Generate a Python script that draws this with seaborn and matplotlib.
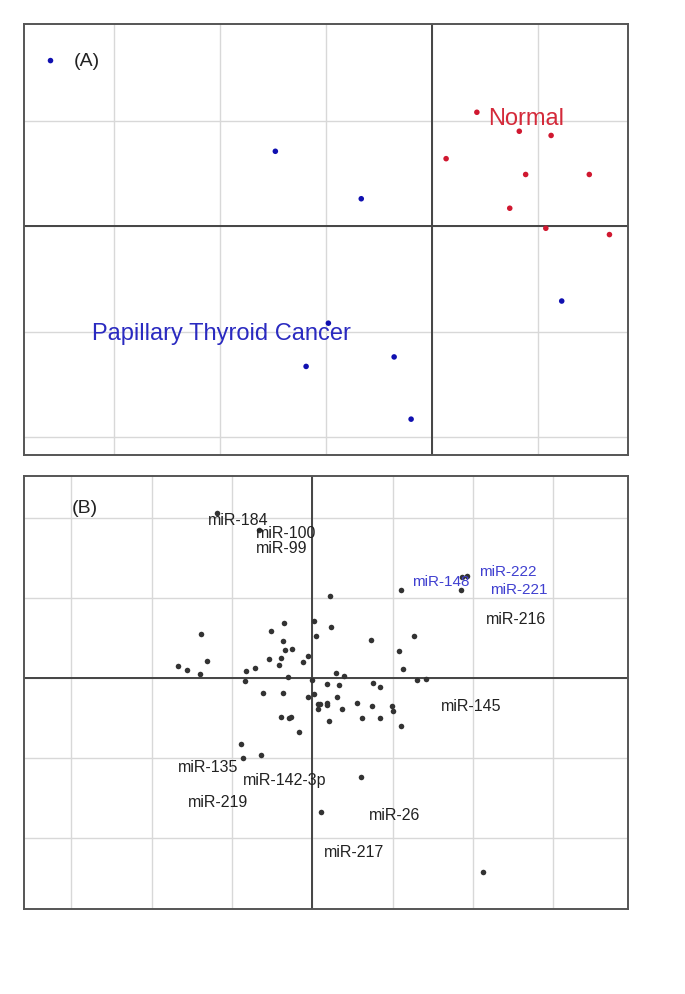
import numpy as np
import pandas as pd
import matplotlib
matplotlib.use("Agg")
import matplotlib.pyplot as plt
import seaborn as sns

# %%
# Panel A: samples
cancer_x = [-3.60, -1.48, -0.67, -0.98, -1.19, -0.36, -0.20, 1.22]
cancer_y = [1.57, 0.71, 0.26, -0.92, -1.33, -1.24, -1.83, -0.71]
normal_x = [0.42, 0.82, 1.12, 0.13, 0.88, 1.48, 0.73, 1.07, 1.67]
normal_y = [1.08, 0.90, 0.86, 0.64, 0.49, 0.49, 0.17, -0.02, -0.08]

# Panel B: miRNA loadings
mir_x = [-1.19, -0.66, -1.39, -1.67, -1.56, -1.40, -1.31, -0.82, -0.72, -0.84,
         -0.62, -0.51, -0.35, -0.36, -0.34, -0.25, -0.54, -0.39, -0.42, -0.06,
         -0.12, -0.30, -0.36, -0.06, -0.39, -0.29, -0.27, -0.17, -0.89, -0.86,
         -0.64, 0.00, 0.02, 0.04, 0.02, 0.07, 0.07, 0.22, 1.11, 0.23,
         0.73, 1.26, 1.08, 1.13, 0.30, 0.39, 0.18, 0.33, 0.76, 0.84,
         1.30, 1.41, 0.31, 0.10, 0.18, 0.18, 0.37, 0.55, 0.74, 0.99,
         1.01, 0.62, 0.84, 0.21, 1.10, 1.85, 1.86, 1.93, 0.61, 0.11, 2.13]
mir_y = [2.07, 1.86, 0.55, 0.15, 0.10, 0.05, 0.22, 0.09, 0.13, -0.03,
         -0.18, 0.59, 0.69, 0.46, 0.35, 0.36, 0.24, 0.25, 0.17, 0.28,
         0.20, 0.02, -0.18, -0.24, -0.49, -0.50, -0.49, -0.67, -0.82, -1.00,
         -0.96, -0.02, 0.72, 0.53, -0.20, -0.33, -0.39, 1.03, 1.10, 0.64,
         0.48, 0.53, 0.34, 0.11, 0.06, 0.03, -0.07, -0.08, -0.06, -0.11,
         -0.02, -0.01, -0.23, -0.32, -0.31, -0.34, -0.39, -0.31, -0.35, -0.35,
         -0.41, -0.50, -0.50, -0.54, -0.60, 1.10, 1.27, 1.28, -1.24, -1.67, -2.43]

black_labels = ["miR-184", "miR-100", "miR-99", "miR-216", "miR-145",
                "miR-135", "miR-142-3p", "miR-219", "miR-26", "miR-217"]
black_lab_x = [-1.30, -0.70, -0.70, 2.16, 1.60, -1.67, -0.87, -1.55, 0.71, 0.15]
black_lab_y = [1.98, 1.82, 1.63, 0.75, -0.34, -1.11, -1.27, -1.55, -1.71, -2.17]
blue_labels = ["miR-148", "miR-222", "miR-221"]
blue_lab_x = [1.24, 2.07, 2.21]
blue_lab_y = [1.21, 1.34, 1.12]

# %%
sns.set_style("white")
plt.rcParams['font.family'] = ['Liberation Sans', 'DejaVu Sans']

samples = pd.DataFrame({
    "PC1": cancer_x + normal_x,
    "PC2": cancer_y + normal_y,
    "group": ["PTC"] * len(cancer_x) + ["Normal"] * len(normal_x),
})
mirs = pd.DataFrame({"PC1": mir_x, "PC2": mir_y})

fig = plt.figure(figsize=(6.85, 9.95), dpi=100)
axA = fig.add_axes([0.035, 0.5417, 0.8818, 0.4335])
axB = fig.add_axes([0.035, 0.0854, 0.8818, 0.4352])


def style_axes(ax, xlim, ylim, xt, yt):
    ax.set_xlim(*xlim)
    ax.set_ylim(*ylim)
    ax.set_xticks(xt)
    ax.set_yticks(yt)
    ax.grid(True, color="#d8d8d8", linewidth=1.0)
    ax.set_axisbelow(True)
    ax.tick_params(length=0, labelbottom=False, labelleft=False)
    ax.set_xlabel("")
    ax.set_ylabel("")
    for sp in ax.spines.values():
        sp.set_color("#555555")
        sp.set_linewidth(1.4)
    ax.axhline(0, color="#444444", linewidth=1.4, zorder=1)
    ax.axvline(0, color="#444444", linewidth=1.4, zorder=1)


# Panel A
sns.scatterplot(data=samples, x="PC1", y="PC2", hue="group",
                palette={"PTC": "#1010b0", "Normal": "#d01830"},
                s=16, linewidth=0, legend=False, ax=axA, zorder=3)
style_axes(axA, (-3.85, 1.845), (-2.17, 1.92), [-3, -2, -1, 0, 1], [-2, -1, 0, 1])
axA.text(-3.38, 1.57, "(A)", fontsize=14, ha="left", va="center", color="#222222")
axA.text(0.53, 1.03, "Normal", fontsize=17, ha="left", va="center", color="#d42a3a")
axA.text(-3.21, -1.01, "Papillary Thyroid Cancer", fontsize=17, ha="left",
         va="center", color="#2a2ac0")

# Panel B
sns.scatterplot(data=mirs, x="PC1", y="PC2", color="#333333", s=16,
                linewidth=0, ax=axB, zorder=3)
style_axes(axB, (-3.59, 3.93), (-2.89, 2.53), [-3, -2, -1, 0, 1, 2, 3], [-2, -1, 0, 1, 2])
axB.text(-2.99, 2.13, "(B)", fontsize=14, ha="left", va="center", color="#222222")
for lab, x, y in zip(black_labels, black_lab_x, black_lab_y):
    axB.text(x, y, lab, fontsize=11.5, ha="left", va="center", color="#222222")
for lab, x, y in zip(blue_labels, blue_lab_x, blue_lab_y):
    axB.text(x, y, lab, fontsize=11, ha="left", va="center", color="#4040d0")

fig.savefig("out.png", dpi=100)
